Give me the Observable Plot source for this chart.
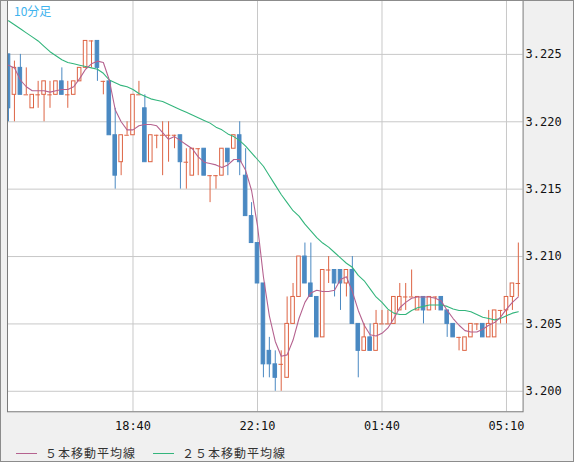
<!DOCTYPE html>
<html><head><meta charset="utf-8">
<script src="https://cdn.jsdelivr.net/npm/d3@7"></script>
<script src="https://cdn.jsdelivr.net/npm/@observablehq/plot@0.6"></script>
<style>
html,body{margin:0;padding:0;background:#f0f0f0;}
#wrap{position:relative;width:574px;height:462px;box-sizing:border-box;border:1px solid #8c8c8c;background:#f0f0f0;overflow:hidden;}
#chart{position:absolute;left:-1px;top:-1px;}
#tf{position:absolute;left:13px;top:1px;font:12px "Noto Sans CJK JP",sans-serif;color:#3db3ee;}
.lg{position:absolute;top:443px;font:12px "Noto Sans CJK JP",sans-serif;letter-spacing:1px;color:#333;}
.ln{position:absolute;top:452px;height:1px;}
</style></head>
<body>
<div id="wrap">
<div id="chart"></div>
<div id="tf">10分足</div>
<div class="ln" id="l1" style="left:15px;width:21px;"></div>
<div class="lg" id="t1" style="left:44px;"></div>
<div class="ln" id="l2" style="left:152px;width:21px;"></div>
<div class="lg" id="t2" style="left:181px;"></div>
</div>
<script>
// 10-minute candles, 15:10 -> 05:30
const open = [3.225,3.222,3.224,3.222,3.221,3.222,3.222,3.222,3.222,3.223,3.222,3.222,3.223,3.224,3.226,3.226,3.223,3.223,3.219,3.217,3.219,3.219,3.222,3.221,3.217,3.219,3.219,3.219,3.219,3.219,3.217,3.216,3.218,3.218,3.216,3.216,3.216,3.218,3.218,3.219,3.216,3.213,3.211,3.208,3.203,3.202,3.202,3.201,3.205,3.207,3.210,3.208,3.207,3.204,3.209,3.209,3.209,3.208,3.209,3.205,3.203,3.204,3.203,3.205,3.205,3.205,3.206,3.207,3.207,3.206,3.207,3.206,3.207,3.207,3.206,3.205,3.204,3.203,3.204,3.205,3.205,3.204,3.204,3.206,3.206,3.207,3.208];
const high = [3.225,3.2245,3.225,3.224,3.222,3.223,3.223,3.223,3.223,3.224,3.223,3.223,3.224,3.226,3.226,3.226,3.223,3.223,3.221,3.219,3.220,3.222,3.223,3.222,3.219,3.219,3.220,3.220,3.219,3.219,3.218,3.218,3.218,3.218,3.216,3.216,3.218,3.218,3.219,3.220,3.218,3.214,3.211,3.208,3.204,3.203,3.203,3.207,3.208,3.210,3.211,3.211,3.207,3.209,3.210,3.209,3.209,3.209,3.210,3.205,3.205,3.205,3.206,3.206,3.206,3.207,3.208,3.208,3.209,3.207,3.207,3.207,3.207,3.207,3.206,3.205,3.204,3.204,3.205,3.205,3.205,3.206,3.206,3.206,3.207,3.208,3.211];
const low = [3.220,3.220,3.222,3.222,3.221,3.221,3.220,3.221,3.222,3.222,3.221,3.222,3.223,3.224,3.224,3.223,3.222,3.219,3.215,3.216,3.219,3.219,3.222,3.217,3.217,3.218,3.216,3.217,3.218,3.215,3.215,3.216,3.216,3.216,3.214,3.215,3.216,3.216,3.218,3.216,3.213,3.211,3.208,3.201,3.201,3.200,3.200,3.201,3.205,3.207,3.208,3.207,3.204,3.204,3.208,3.207,3.206,3.207,3.205,3.201,3.203,3.203,3.203,3.205,3.205,3.205,3.206,3.206,3.207,3.206,3.205,3.206,3.206,3.206,3.204,3.204,3.203,3.203,3.204,3.2045,3.204,3.204,3.204,3.205,3.205,3.206,3.207];
const close = [3.221,3.224,3.222,3.222,3.222,3.222,3.223,3.222,3.223,3.222,3.222,3.223,3.224,3.226,3.226,3.224,3.223,3.219,3.216,3.219,3.219,3.222,3.222,3.217,3.219,3.219,3.219,3.219,3.219,3.217,3.217,3.218,3.218,3.216,3.216,3.216,3.218,3.217,3.219,3.217,3.213,3.211,3.208,3.202,3.202,3.201,3.202,3.205,3.207,3.210,3.208,3.207,3.204,3.209,3.209,3.208,3.208,3.209,3.205,3.203,3.204,3.203,3.205,3.205,3.205,3.207,3.207,3.207,3.207,3.207,3.206,3.207,3.207,3.206,3.205,3.204,3.204,3.204,3.205,3.205,3.204,3.205,3.206,3.206,3.207,3.208,3.208];
// moving averages
const ma5 = [3.2242,3.2240,3.2231,3.2226,3.2223,3.2223,3.2223,3.2222,3.2223,3.2224,3.2224,3.2226,3.2232,3.2239,3.2243,3.2245,3.2244,3.2231,3.2209,3.2200,3.2194,3.2194,3.2197,3.2198,3.2198,3.2197,3.2192,3.2187,3.2189,3.2186,3.2183,3.2180,3.2174,3.2170,3.2169,3.2168,3.2166,3.2168,3.2172,3.2172,3.2164,3.2149,3.2123,3.2085,3.2056,3.2037,3.2026,3.2027,3.2038,3.2054,3.2066,3.2073,3.2075,3.2074,3.2074,3.2075,3.2083,3.2085,3.2074,3.2060,3.2049,3.2042,3.2041,3.2043,3.2047,3.2054,3.2062,3.2066,3.2069,3.2070,3.2070,3.2070,3.2069,3.2067,3.2060,3.2054,3.2049,3.2045,3.2044,3.2044,3.2046,3.2049,3.2051,3.2055,3.2061,3.2066,3.2070];
const ma25 = [3.2275,3.2272,3.2269,3.2266,3.2263,3.2260,3.2256,3.2252,3.2249,3.2246,3.2244,3.2243,3.2242,3.2241,3.2240,3.2239,3.2236,3.2231,3.2229,3.2227,3.2226,3.2224,3.2221,3.2219,3.2217,3.2216,3.2215,3.2213,3.2211,3.2209,3.2207,3.2205,3.2203,3.2201,3.2199,3.2196,3.2194,3.2191,3.2189,3.2186,3.2182,3.2177,3.2172,3.2167,3.2160,3.2153,3.2146,3.2140,3.2134,3.2130,3.2124,3.2119,3.2114,3.2110,3.2107,3.2103,3.2099,3.2095,3.2092,3.2086,3.2082,3.2076,3.2070,3.2066,3.2061,3.2058,3.2057,3.2057,3.2060,3.2062,3.2063,3.2064,3.2064,3.2064,3.2063,3.2061,3.2060,3.2060,3.2059,3.2057,3.2055,3.2054,3.2053,3.2054,3.2056,3.2058,3.2059];
const xTickIndex = [21, 42, 63, 84];
const xTickLabels = ["18:40", "22:10", "01:40", "05:10"];
const yTicks = [3.200, 3.205, 3.210, 3.215, 3.220, 3.225];
const legendLabels = ["５本移動平均線", "２５本移動平均線"];

const RED = "#dd6343", BLUE = "#4a89c2", PURPLE = "#b5628f", GREEN = "#33b57c", GRID = "#c8c8c8";

const bars = open.map((o, i) => ({i, o, h: high[i], l: low[i], c: close[i], ma5: ma5[i], ma25: ma25[i]}));
const isUp = d => d.c > d.o;
const isDown = d => d.c < d.o;
const isDoji = d => d.c === d.o;
const hw = 0.3;

const chart = Plot.plot({
  width: 574, height: 440,
  marginLeft: 7, marginRight: 50.5, marginTop: 0, marginBottom: 28,
  x: {domain: [-0.17, 86.8], label: null},
  y: {domain: [3.19848, 3.229], label: null},
  style: {background: "transparent", fontFamily: "'DejaVu Sans Mono', monospace", fontSize: "12px", color: "#111"},
  marks: [
    Plot.frame({fill: "white"}),
    Plot.gridY(yTicks, {stroke: GRID, strokeOpacity: 1}),
    Plot.gridX(xTickIndex, {stroke: GRID, strokeOpacity: 1}),
    Plot.ruleX(bars, {filter: d => !isDown(d), x: "i", y1: "l", y2: "h", stroke: RED, clip: true}),
    Plot.ruleX(bars, {filter: isDown, x: "i", y1: "l", y2: "h", stroke: BLUE, clip: true}),
    Plot.rect(bars, {filter: isUp, x1: d => d.i - hw, x2: d => d.i + hw, y1: "o", y2: "c", fill: "white", stroke: RED, clip: true}),
    Plot.rect(bars, {filter: isDown, x1: d => d.i - hw, x2: d => d.i + hw, y1: "o", y2: "c", fill: BLUE, stroke: BLUE, clip: true}),
    Plot.ruleY(bars, {filter: isDoji, y: "o", x1: d => d.i - hw - 0.08, x2: d => d.i + hw + 0.08, stroke: RED, clip: true}),
    Plot.line(bars, {x: "i", y: "ma25", stroke: GREEN, strokeWidth: 1.1, clip: true}),
    Plot.line(bars, {x: "i", y: "ma5", stroke: PURPLE, strokeWidth: 1.1, clip: true}),
    Plot.frame({stroke: "#7a7a7a"}),
    Plot.axisY(yTicks, {anchor: "right", label: null, tickSize: 0, tickPadding: 2.5, tickFormat: d3.format(".3f")}),
    Plot.axisX(xTickIndex, {anchor: "bottom", label: null, tickSize: 0, tickPadding: 10, tickFormat: (d, k) => xTickLabels[k]})
  ]
});
document.getElementById("chart").appendChild(chart);
document.getElementById("l1").style.background = PURPLE;
document.getElementById("l2").style.background = GREEN;
document.getElementById("t1").textContent = legendLabels[0];
document.getElementById("t2").textContent = legendLabels[1];
</script>
</body></html>
